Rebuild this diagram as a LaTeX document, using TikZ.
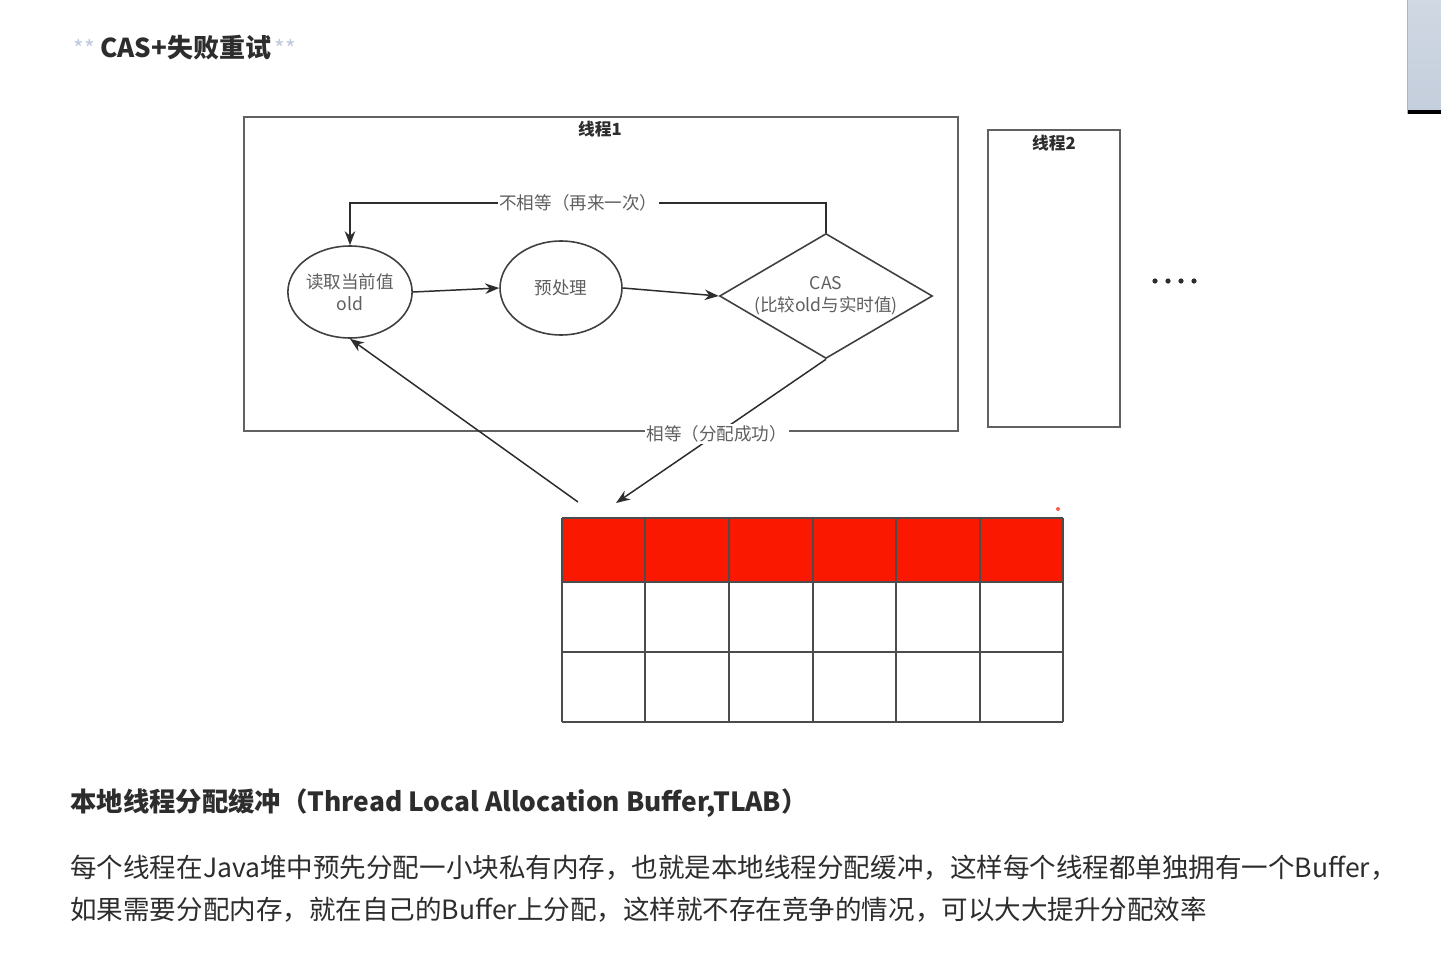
\documentclass[tikz,border=0pt]{standalone}
\usepackage{fontspec}
\setmainfont{Noto Sans CJK SC}
\usepackage{tikz}
\usetikzlibrary{arrows.meta}
\usetikzlibrary{shapes.geometric}
\usepackage{xcolor}
\definecolor{heapred}{RGB}{250,24,0}
\definecolor{inkgray}{RGB}{45,45,45}
\definecolor{labelgray}{RGB}{95,95,95}
\definecolor{markblue}{RGB}{190,202,222}
\definecolor{barblue}{RGB}{196,206,220}

\begin{document}
\begin{tikzpicture}[x=0.02cm,y=-0.02cm,
  flow/.style={draw=inkgray,line width=0.85pt,-{Stealth[length=8pt,width=6pt]}},
  thread/.style={draw=black!62,line width=1.1pt},
  cell/.style={draw=black!70,line width=1.1pt},
  bubble/.style={ellipse,draw=black!75,line width=0.9pt,minimum width=2.44cm,
    minimum height=1.84cm,inner sep=0pt,text=labelgray,align=center,
    font=\fontsize{10pt}{12.5pt}\selectfont},
  tag/.style={fill=white,text=labelgray,inner sep=1pt,
    font=\fontsize{10pt}{12pt}\selectfont},
  prose/.style={anchor=west,inner sep=0pt,text=inkgray}]
  \useasboundingbox (0,0) rectangle (1441,963);
  \fill[white] (0,0) rectangle (1441,963);

% title
\node[prose,font=\bfseries\fontsize{14.8pt}{18pt}\selectfont] (title) at (100,48) {CAS+失败重试};
\node[text=markblue,font=\fontsize{13pt}{14pt}\selectfont] (markL) at (84,48) {**};
\node[text=markblue,font=\fontsize{13pt}{14pt}\selectfont] (markR) at (285,48) {**};

% the two threads
\draw[thread] (244,117) rectangle (958,431);
\node[font=\bfseries\fontsize{9.5pt}{11pt}\selectfont,text=inkgray] (t1) at (600,129) {线程1};
\draw[thread] (988,130) rectangle (1120,427);
\node[font=\bfseries\fontsize{9.5pt}{11pt}\selectfont,text=inkgray] (t2) at (1054,143) {线程2};
\foreach \x in {1155,1168,1181,1194}
  \fill[inkgray] (\x,281) circle (2.6);

% steps
\node[bubble] (old) at (350,292) {读取当前值\\old};
\node[bubble,minimum height=1.88cm] (pre) at (561,288) {预处理};
\node[diamond,draw=black!75,line width=0.9pt,minimum width=4.26cm,minimum height=2.5cm,
  inner sep=0pt,label={[text=labelgray,align=center,font=\fontsize{10pt}{12.5pt}\selectfont]center:CAS\\(比较old与实时值)}]
  (cas) at (826,296) {};

\draw[flow] (old.east) -- (pre.west);
\draw[flow] (pre.east) -- (cas.west);

\coordinate (retry) at (826,203);
\draw[flow] (cas.north) -- (retry) -| node[tag,pos=0.26] {不相等（再来一次）} (old.north);

\coordinate (down) at (616,503);
\coordinate (up) at (578,502);
\draw[flow] (cas.south) -- node[tag,pos=0.52] {相等（分配成功）} (down);
\draw[flow] (up) -- (old.south);

% heap blocks
\fill[heapred] (562,518) rectangle (1063,582);
\foreach \x in {562,645,729,813,896,980,1063}
  \draw[cell] (\x,518) -- (\x,722);
\foreach \y in {518,582,652,722}
  \draw[cell] (562,\y) -- (1063,\y);
\fill[heapred!70] (1058,509) circle (2);

% text below
\node[prose,font=\bfseries\fontsize{15pt}{18pt}\selectfont] (tlab) at (70,803)
  {本地线程分配缓冲（Thread Local Allocation Buffer,TLAB）};
\node[prose,font=\fontsize{15.1pt}{18pt}\selectfont] (line1) at (70,868)
  {每个线程在Java堆中预先分配一小块私有内存，也就是本地线程分配缓冲，这样每个线程都单独拥有一个Buffer，};
\node[prose,font=\fontsize{15.1pt}{18pt}\selectfont] (line2) at (70,910)
  {如果需要分配内存，就在自己的Buffer上分配，这样就不存在竞争的情况，可以大大提升分配效率};

% scroll bar
\shade[top color=barblue!80,bottom color=barblue] (1407,0) rectangle (1441,110);
\fill[black] (1407,110) rectangle (1441,114);
\draw[black!30] (1407,0) -- (1407,114);

\end{tikzpicture}
\end{document}
